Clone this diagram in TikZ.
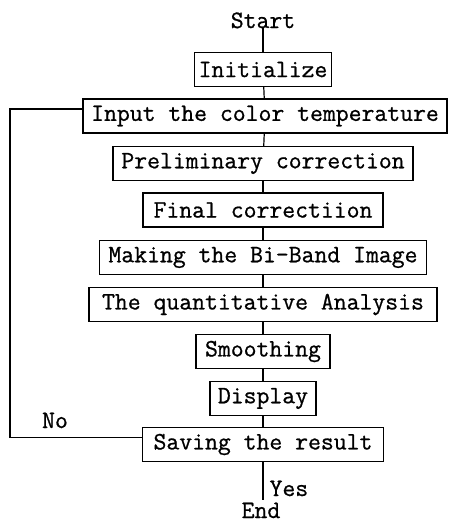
\documentclass[tikz,border=0pt]{standalone}
\usepackage{fontspec}
\usepackage{tikz}
\newfontfamily\flowfont{Latin Modern Mono}[FakeBold=0.8]

\tikzset{
  stage/.style={draw, minimum height=17pt, inner xsep=2pt, inner ysep=0pt,
    font=\flowfont\fontsize{12.5pt}{14pt}\selectfont},
  word/.style={inner sep=0pt, font=\flowfont\fontsize{12.5pt}{14pt}\selectfont}
}

\begin{document}
\begin{tikzpicture}[x=0.5pt, y=-0.5pt, line width=0.6pt]
\useasboundingbox (0,0) rectangle (449,521);
\node[word, anchor=base] (start) at (263,28) {Start};
\node[stage, minimum width=68.5pt] (init) at (263,69.5) {Initialize};
\node[stage, minimum width=182pt] (input) at (265,116) {Input the color temperature};
\node[stage, minimum width=150pt] (prelim) at (263,163.5) {Preliminary correction};
\node[stage, minimum width=120pt] (final) at (263,210) {Final correctiion};
\node[stage, minimum width=163.5pt] (biband) at (263,257.5) {Making the Bi-Band Image};
\node[stage, minimum width=174pt] (quant) at (263,304.5) {The quantitative Analysis};
\node[stage, minimum width=67pt] (smooth) at (263,351.5) {Smoothing};
\node[stage, minimum width=53pt] (disp) at (263,398.5) {Display};
\node[stage, minimum width=120.5pt] (save) at (263,444.5) {Saving the result};
% loop back and exit
\coordinate (loop) at (10,109);
\coordinate (tail) at (263,500);
\node[word, anchor=base] (no) at (55,428) {No};
\node[word, anchor=base west] (yes) at (269,496) {Yes};
\node[word, anchor=base] (end) at (261,518) {End};
%
\draw (start.base) -- (init);
\foreach \a/\b in {init/input, input/prelim, prelim/final, final/biband,
                   biband/quant, quant/smooth, smooth/disp, disp/save}
  \draw (\a) -- (\b);
\draw ([yshift=3.5pt]save.west) -| (loop) -- ([yshift=3.5pt]input.west);
\draw (save) -- (tail);
\end{tikzpicture}
\end{document}
